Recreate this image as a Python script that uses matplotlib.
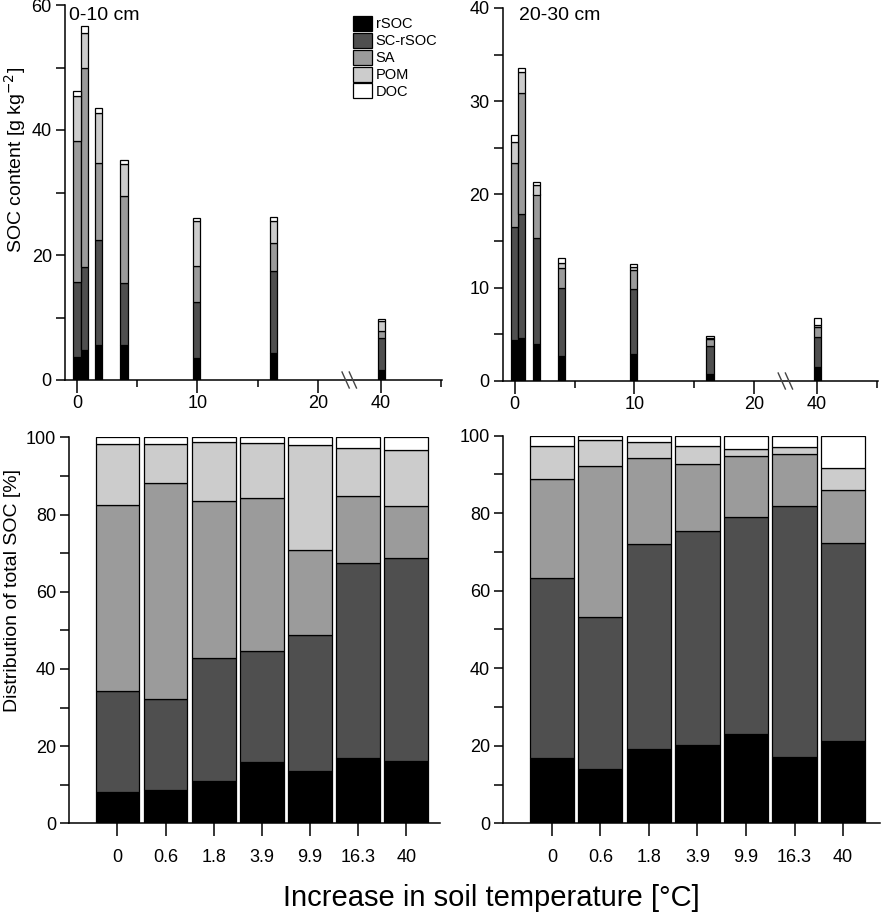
import matplotlib
matplotlib.use("Agg")
import matplotlib.pyplot as plt
import numpy as np

plt.rcParams['font.family'] = ['Liberation Sans', 'DejaVu Sans']

# ---------------- data ----------------
fractions = ['rSOC', 'SC-rSOC', 'SA', 'POM', 'DOC']
colors = ['#000000', '#4f4f4f', '#9b9b9b', '#cccccc', '#ffffff']
temps = [0, 0.6, 1.8, 3.9, 9.9, 16.3, 40]
temp_labels = ['0', '0.6', '1.8', '3.9', '9.9', '16.3', '40']

# SOC content [g kg-2], 0-10 cm
top_rSOC_0_10 = [3.7, 4.8, 5.6, 5.6, 3.5, 4.4, 1.6]
top_SCrSOC_0_10 = [12.0, 13.3, 16.8, 10.0, 9.0, 13.1, 5.1]
top_SA_0_10 = [22.5, 31.8, 12.4, 13.9, 5.8, 4.5, 1.2]
top_POM_0_10 = [7.2, 5.6, 8.0, 5.0, 7.2, 3.5, 1.55]
top_DOC_0_10 = [0.9, 1.1, 0.7, 0.7, 0.4, 0.55, 0.35]

# SOC content [g kg-2], 20-30 cm
top_rSOC_20_30 = [4.4, 4.6, 4.0, 2.7, 2.9, 0.8, 1.5]
top_SCrSOC_20_30 = [12.1, 13.3, 11.3, 7.25, 7.0, 3.0, 3.25]
top_SA_20_30 = [6.9, 13.0, 4.7, 2.2, 2.05, 0.7, 1.0]
top_POM_20_30 = [2.2, 2.2, 1.0, 0.55, 0.25, 0.15, 0.3]
top_DOC_20_30 = [0.8, 0.5, 0.3, 0.45, 0.4, 0.15, 0.7]

# Distribution of total SOC [%], 0-10 cm
pct_rSOC_0_10 = [8.2, 8.5, 11.0, 16.0, 13.6, 16.9, 16.1]
pct_SCrSOC_0_10 = [26.1, 23.7, 31.7, 28.6, 35.1, 50.5, 52.6]
pct_SA_0_10 = [48.1, 55.9, 40.8, 39.6, 22.0, 17.3, 13.4]
pct_POM_0_10 = [15.8, 10.1, 15.2, 14.2, 27.2, 12.5, 14.5]
pct_DOC_0_10 = [1.8, 1.8, 1.3, 1.6, 2.1, 2.8, 3.4]

# Distribution of total SOC [%], 20-30 cm
pct_rSOC_20_30 = [16.8, 14.0, 19.2, 20.2, 23.0, 17.2, 21.3]
pct_SCrSOC_20_30 = [46.4, 39.1, 52.8, 55.2, 55.9, 64.6, 50.9]
pct_SA_20_30 = [25.5, 39.0, 22.2, 17.2, 15.8, 13.6, 13.7]
pct_POM_20_30 = [8.6, 6.7, 4.3, 4.7, 1.8, 1.7, 5.7]
pct_DOC_20_30 = [2.7, 1.2, 1.5, 2.7, 3.5, 2.9, 8.4]

top_0_10 = [top_rSOC_0_10, top_SCrSOC_0_10, top_SA_0_10, top_POM_0_10, top_DOC_0_10]
top_20_30 = [top_rSOC_20_30, top_SCrSOC_20_30, top_SA_20_30, top_POM_20_30, top_DOC_20_30]
pct_0_10 = [pct_rSOC_0_10, pct_SCrSOC_0_10, pct_SA_0_10, pct_POM_0_10, pct_DOC_0_10]
pct_20_30 = [pct_rSOC_20_30, pct_SCrSOC_20_30, pct_SA_20_30, pct_POM_20_30, pct_DOC_20_30]

# broken x axis: values above the break are shifted left
BREAK_AT = 25.0
BREAK_SHIFT = 14.75
BREAK_MARK = 22.6


def xpos(t):
    t = np.asarray(t, dtype=float)
    return np.where(t > BREAK_AT, t - BREAK_SHIFT, t)


FS_TICK = 13
W, H = 892, 915
fig = plt.figure(figsize=(W / 100, H / 100), dpi=100)


def px_axes(l, r, t, b):
    return fig.add_axes([l / W, 1 - b / H, (r - l) / W, (b - t) / H])


def style(ax):
    for s in ['top', 'right']:
        ax.spines[s].set_visible(False)
    for s in ['left', 'bottom']:
        ax.spines[s].set_linewidth(1.1)
    ax.tick_params(axis='y', which='both', direction='out', length=6.5, width=1.1,
                   labelsize=FS_TICK, pad=3)
    ax.tick_params(axis='x', which='major', direction='out', length=9.5, width=1.1,
                   labelsize=FS_TICK)
    ax.tick_params(axis='x', which='minor', direction='out', length=4.8, width=1.1)


def stacked(ax, x, series, width):
    bottom = np.zeros(len(x))
    for vals, c, name in zip(series, colors, fractions):
        vals = np.asarray(vals, dtype=float)
        ax.bar(x, vals, width, bottom=bottom, color=c, edgecolor='black',
               linewidth=0.9, label=name, zorder=2)
        bottom = bottom + vals


def top_panel(ax, series, ymax, ymajor, ylabels_step, label, label_px):
    style(ax)
    stacked(ax, xpos(temps), series, 0.6)
    ax.set_xlim(-1.0, 30.3)
    ax.set_ylim(0, ymax)
    ax.set_xticks(xpos([0, 10, 20, 40]))
    ax.set_xticklabels(['0', '10', '20', '40'])
    ax.set_xticks(xpos([5, 15, 45]), minor=True)
    ax.tick_params(axis='x', which='major', pad=1)
    yt = np.arange(0, ymax + 0.001, ymajor)
    ax.set_yticks(yt)
    ax.set_yticklabels([('%d' % v) if (v % ylabels_step == 0) else '' for v in yt])
    fig.text(label_px[0] / W, 1 - label_px[1] / H, label, fontsize=14,
             ha='left', va='center')
    # break marks on the x axis
    bb = ax.get_position()
    dy = 8.0 * ymax / (bb.height * H)
    for off in (-0.3, 0.3):
        ax.plot([BREAK_MARK + off - 0.3, BREAK_MARK + off + 0.3], [dy, -dy],
                color='#444444', lw=1.0, clip_on=False, zorder=5)


def bottom_panel(ax, series, xmax):
    style(ax)
    x = np.arange(len(temp_labels))
    stacked(ax, x, series, 0.91)
    ax.set_xlim(-1.0, xmax)
    ax.set_ylim(0, 100)
    ax.set_xticks(x)
    ax.set_xticklabels(temp_labels)
    ax.tick_params(axis='x', which='major', pad=9)
    yt = np.arange(0, 101, 10)
    ax.set_yticks(yt)
    ax.set_yticklabels([('%d' % v) if v % 20 == 0 else '' for v in yt])


ax1 = px_axes(65, 442, 5, 380)
top_panel(ax1, top_0_10, 60, 10, 20, '0-10 cm', (69, 15))
ax2 = px_axes(502.7, 877.6, 8, 381)
top_panel(ax2, top_20_30, 40, 5, 10, '20-30 cm', (519, 16))
ax3 = px_axes(69.3, 440, 437.3, 823.3)
bottom_panel(ax3, pct_0_10, 6.7)
ax4 = px_axes(503.3, 880, 435.7, 823.3)
bottom_panel(ax4, pct_20_30, 6.76)

handles = [plt.Rectangle((0, 0), 1, 1, facecolor=c, edgecolor='black', linewidth=0.9)
           for c in colors]
ax1.legend(handles, fractions, loc='upper left',
           bbox_to_anchor=(353 / W, 1 - 16 / H), bbox_transform=fig.transFigure,
           frameon=False, fontsize=10.5, handlelength=1.3, handleheight=1.2,
           labelspacing=0.1, handletextpad=0.25, borderpad=0, borderaxespad=0)

fig.text(15 / W, 1 - 160 / H, 'SOC content [g kg$^{-2}$]', rotation=90,
         ha='center', va='center', fontsize=14)
fig.text(13 / W, 1 - 590 / H, 'Distribution of total SOC [%]', rotation=90,
         ha='center', va='center', fontsize=14)
fig.text(491 / W, 1 - 898 / H, 'Increase in soil temperature [\u00b0C]',
         ha='center', va='center', fontsize=21)

fig.savefig('out.png', dpi=100)
